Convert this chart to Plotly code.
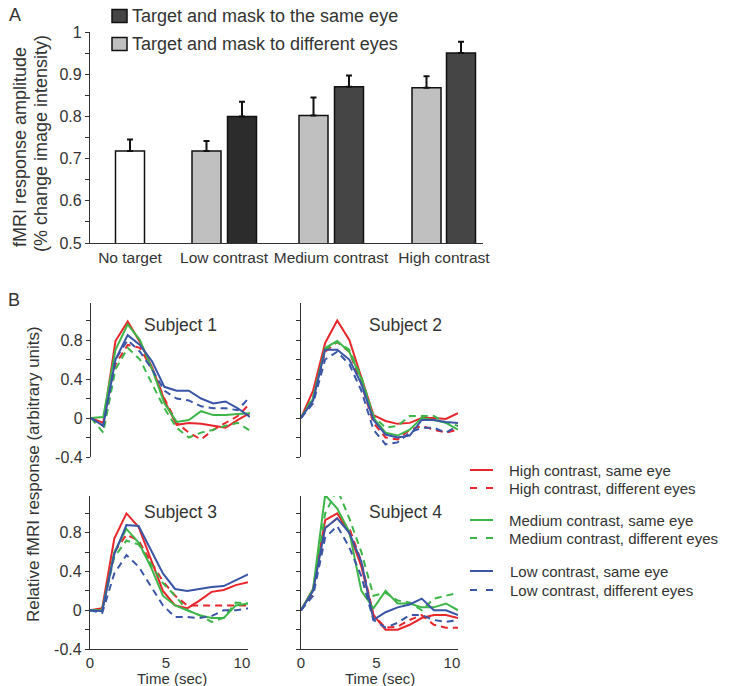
import plotly.graph_objects as go

W, H = 729, 686
def px(x): return x / W
def py(y): return 1 - y / H

FONT = "Liberation Sans, Arial, sans-serif"
TXT = "#333333"

# ---------------- Panel A data ----------------
a_categories = ["No target", "Low contrast", "Medium contrast", "High contrast"]
a_no_target = [0.718]
a_no_target_err = [0.027]
a_diff_eyes = [0.718, 0.802, 0.868]
a_diff_eyes_err = [0.024, 0.043, 0.027]
a_same_eye = [0.800, 0.870, 0.950]
a_same_eye_err = [0.035, 0.027, 0.027]
a_legend = ["Target and mask to the same eye", "Target and mask to different eyes"]

# ---------------- Panel B data ----------------
t = [0, 0.8, 1.6, 2.4, 3.2, 4.0, 4.8, 5.6, 6.4, 7.2, 8.0, 8.8, 9.6, 10.4]

s1_high_same = [0, -0.05, 0.79, 0.99, 0.78, 0.52, 0.18, -0.07, -0.05, -0.06, -0.08, -0.10, -0.02, 0.05]
s1_high_diff = [0, -0.08, 0.55, 0.75, 0.72, 0.50, 0.20, -0.05, -0.15, -0.22, -0.12, -0.05, 0.02, 0.15]
s1_med_same = [0, 0.01, 0.70, 0.96, 0.80, 0.50, 0.15, -0.04, -0.02, 0.07, 0.03, 0.03, 0.04, 0.05]
s1_med_diff = [0, -0.15, 0.50, 0.72, 0.60, 0.35, 0.10, -0.10, -0.20, -0.15, -0.12, -0.08, -0.05, -0.13]
s1_low_same = [0, -0.08, 0.60, 0.85, 0.75, 0.58, 0.32, 0.28, 0.28, 0.20, 0.15, 0.17, 0.10, 0.01]
s1_low_diff = [0, -0.08, 0.60, 0.80, 0.68, 0.50, 0.28, 0.20, 0.18, 0.12, 0.10, 0.10, 0.08, 0.22]

s2_high_same = [0, 0.28, 0.77, 1.00, 0.80, 0.42, 0.03, -0.03, -0.06, -0.05, 0.00, 0.00, -0.01, 0.05]
s2_high_diff = [0, 0.18, 0.68, 0.78, 0.68, 0.35, -0.05, -0.20, -0.22, -0.12, -0.08, -0.12, -0.15, -0.12]
s2_med_same = [0, 0.20, 0.72, 0.79, 0.68, 0.40, 0.00, -0.15, -0.18, -0.12, 0.00, -0.02, -0.05, -0.12]
s2_med_diff = [0, 0.22, 0.70, 0.78, 0.70, 0.42, 0.02, -0.10, -0.08, 0.02, 0.02, 0.02, -0.05, -0.08]
s2_low_same = [0, 0.18, 0.70, 0.70, 0.60, 0.35, -0.02, -0.17, -0.20, -0.18, -0.02, -0.02, -0.04, -0.05]
s2_low_diff = [0, 0.15, 0.60, 0.68, 0.55, 0.28, -0.12, -0.27, -0.25, -0.15, -0.10, -0.10, -0.15, -0.08]

s3_high_same = [0, 0.02, 0.74, 1.00, 0.86, 0.52, 0.20, 0.05, 0.02, 0.10, 0.19, 0.21, 0.26, 0.29]
s3_high_diff = [0, 0.00, 0.60, 0.78, 0.72, 0.50, 0.30, 0.15, 0.05, 0.05, 0.05, 0.05, 0.05, 0.05]
s3_med_same = [0, 0.00, 0.60, 0.84, 0.70, 0.45, 0.15, 0.05, 0.00, -0.05, -0.08, -0.08, 0.05, 0.07]
s3_med_diff = [0, 0.00, 0.55, 0.72, 0.68, 0.48, 0.28, 0.15, 0.00, -0.05, -0.12, -0.08, 0.08, 0.07]
s3_low_same = [0, -0.01, 0.58, 0.88, 0.87, 0.62, 0.38, 0.22, 0.20, 0.22, 0.24, 0.25, 0.31, 0.37]
s3_low_diff = [0, -0.03, 0.38, 0.57, 0.45, 0.25, 0.05, -0.07, -0.07, -0.08, -0.06, 0.00, 0.00, 0.02]

s4_high_same = [0, 0.22, 0.93, 1.00, 0.80, 0.45, -0.05, -0.20, -0.20, -0.15, -0.08, -0.05, -0.05, -0.08]
s4_high_diff = [0, 0.18, 0.85, 0.95, 0.85, 0.50, -0.05, -0.18, -0.17, -0.10, -0.05, -0.15, -0.18, -0.18]
s4_med_same = [0, 0.22, 1.19, 1.05, 0.81, 0.20, 0.02, 0.20, 0.07, 0.07, 0.03, 0.03, 0.07, 0.00]
s4_med_diff = [0, 0.20, 1.00, 1.25, 0.95, 0.60, 0.15, 0.18, 0.10, 0.08, 0.00, 0.12, 0.15, 0.18]
s4_low_same = [0, 0.20, 0.85, 0.95, 0.80, 0.50, -0.10, -0.02, 0.03, 0.06, 0.12, 0.00, 0.00, -0.05]
s4_low_diff = [0, 0.15, 0.75, 0.87, 0.65, 0.35, -0.10, -0.18, -0.13, -0.05, -0.05, -0.10, -0.12, -0.10]

subject_titles = ["Subject 1", "Subject 2", "Subject 3", "Subject 4"]
subject_series = [
    [s1_high_same, s1_high_diff, s1_med_same, s1_med_diff, s1_low_same, s1_low_diff],
    [s2_high_same, s2_high_diff, s2_med_same, s2_med_diff, s2_low_same, s2_low_diff],
    [s3_high_same, s3_high_diff, s3_med_same, s3_med_diff, s3_low_same, s3_low_diff],
    [s4_high_same, s4_high_diff, s4_med_same, s4_med_diff, s4_low_same, s4_low_diff],
]
series_names = ["High contrast, same eye", "High contrast, different eyes",
                "Medium contrast, same eye", "Medium contrast, different eyes",
                "Low contrast, same eye", "Low contrast, different eyes"]

RED, GREEN, BLUE = "#e8262b", "#3db549", "#3a55a6"
series_colors = [RED, RED, GREEN, GREEN, BLUE, BLUE]
series_dash = ["solid", "7px,5px"] * 3

fig = go.Figure()

# ---------------- Panel A ----------------
x_no = [130]
x_diff = [206.5, 313.5, 426.5]
x_same = [242, 349, 461]
BW = 29
DARK, GRAY = "#454545", "#c0c0c0"
err_style = dict(type="data", symmetric=False, color="#111", thickness=2, width=3)

fig.add_trace(go.Bar(x=x_same, y=a_same_eye, width=BW, name=a_legend[0],
                     marker=dict(color=["#2c2c2c", DARK, DARK], line=dict(color="#111", width=1.5)),
                     error_y=dict(array=a_same_eye_err, arrayminus=[0]*3, **err_style),
                     xaxis="x", yaxis="y", showlegend=False))
fig.add_trace(go.Bar(x=x_diff, y=a_diff_eyes, width=BW, name=a_legend[1],
                     marker=dict(color=GRAY, line=dict(color="#111", width=1.5)),
                     error_y=dict(array=a_diff_eyes_err, arrayminus=[0]*3, **err_style),
                     xaxis="x", yaxis="y", showlegend=False))
fig.add_trace(go.Bar(x=x_no, y=a_no_target, width=BW, name="No target",
                     marker=dict(color="#ffffff", line=dict(color="#111", width=1.5)),
                     error_y=dict(array=a_no_target_err, arrayminus=[0], **err_style),
                     xaxis="x", yaxis="y", showlegend=False))

# ---------------- Panel B ----------------
for si, series in enumerate(subject_series):
    ax = si + 2
    for k, ys in enumerate(series):
        fig.add_trace(go.Scatter(
            x=t, y=ys, mode="lines", name=series_names[k],
            line=dict(color=series_colors[k], width=2, dash=series_dash[k]),
            xaxis=f"x{ax}", yaxis=f"y{ax}", showlegend=False))

base_axis = dict(showgrid=False, zeroline=False, linecolor="#333", linewidth=1.3,
                 automargin=False, tickcolor="#333",
                 tickfont=dict(size=16, color=TXT, family=FONT))

layout = dict(
    template="none",
    width=W, height=H, margin=dict(l=0, r=0, t=0, b=0, pad=0, autoexpand=False),
    paper_bgcolor="white", plot_bgcolor="rgba(0,0,0,0)",
    font=dict(family=FONT, color=TXT),
    barmode="overlay", showlegend=False,
    xaxis=dict(base_axis, domain=[px(90), px(483)], range=[90, 483], anchor="y",
               showline=True, ticks="", tickvals=[130, 224, 331, 444], ticktext=a_categories,
               tickfont=dict(size=15.5, color=TXT, family=FONT)),
    yaxis=dict(base_axis, domain=[py(243), py(32)], range=[0.5, 1.0], anchor="x",
               showline=True, ticks="outside", ticklen=4,
               tickvals=[0.5, 0.55, 0.6, 0.65, 0.7, 0.75, 0.8, 0.85, 0.9, 0.95, 1.0],
               ticktext=["0.5", "", "0.6", "", "0.7", "", "0.8", "", "0.9", "", "1"]),
)

xdom = {2: (91, 250), 3: (301, 458), 4: (90, 248), 5: (301, 458)}
ydom = {2: (303, 457), 3: (303, 457), 4: (496, 649), 5: (496, 649)}
ytv = [-0.4, -0.2, 0, 0.2, 0.4, 0.6, 0.8, 1.0]
ytt_left = ["-0.4", "", "0", "", "0.4", "", "0.8", ""]
for ax in range(2, 6):
    bottom = ax in (4, 5)
    left = ax in (2, 4)
    layout[f"xaxis{ax}"] = dict(base_axis, domain=[px(xdom[ax][0]), px(xdom[ax][1])],
                                range=[0, 10.4], anchor=f"y{ax}",
                                showline=bottom, showticklabels=bottom,
                                ticks="", tickvals=[0, 5, 10],
                                tickfont=dict(size=15, color=TXT, family=FONT))
    layout[f"yaxis{ax}"] = dict(base_axis, domain=[py(ydom[ax][1]), py(ydom[ax][0])],
                                range=[-0.4, 1.18], anchor=f"x{ax}", showline=True,
                                ticks="outside", ticklen=4, tickvals=ytv,
                                ticktext=ytt_left if left else [""] * len(ytv))

fig.update_layout(**layout)

ann = []
shapes = []
def add_text(text, x, y, size, angle=0, anchor="center"):
    ann.append(dict(text=text, x=px(x), y=py(y), xref="paper", yref="paper",
                    showarrow=False, xanchor=anchor, yanchor="middle", textangle=angle,
                    font=dict(size=size, color=TXT, family=FONT)))

add_text("A", 15, 15, 18)
add_text("B", 14, 300, 18)
add_text("fMRI response amplitude", 20, 147, 18, -90)
add_text("(% change image intensity)", 41, 144, 18, -90)
add_text("Relative fMRI response (arbitrary units)", 33, 474, 17, -90)
subject_pos = [(180, 325), (405, 325), (180, 512), (405, 512)]
for title, (x, y) in zip(subject_titles, subject_pos):
    add_text(title, x, y, 17.5)
add_text("Time (sec)", 172, 678, 15)
add_text("Time (sec)", 380, 678, 15)

# Legend for panel A
for i, (label, col) in enumerate(zip(a_legend, [DARK, GRAY])):
    yc = 16 + 28 * i
    shapes.append(dict(type="rect", xref="paper", yref="paper",
                       x0=px(112), x1=px(127), y0=py(yc - 6.5), y1=py(yc + 6.5),
                       fillcolor=col, line=dict(color="#111", width=1.5)))
    add_text(label, 130, yc, 18, anchor="left")

# Legend for panel B
leg_rows = [470, 488, 520, 538, 571, 590]
for k, yc in enumerate(leg_rows):
    if series_dash[k] == "solid":
        shapes.append(dict(type="line", xref="paper", yref="paper",
                           x0=px(470), x1=px(493), y0=py(yc), y1=py(yc),
                           line=dict(color=series_colors[k], width=2)))
    else:
        for a, b in [(470, 477), (486, 493)]:
            shapes.append(dict(type="line", xref="paper", yref="paper",
                               x0=px(a), x1=px(b), y0=py(yc), y1=py(yc),
                               line=dict(color=series_colors[k], width=2)))
    add_text(series_names[k], 507 if k < 4 else 508, yc, 15, anchor="left")

fig.update_layout(annotations=ann, shapes=shapes)

fig.write_html("out.html", config={"displayModeBar": False},
               post_script="document.body.style.margin='0px';document.body.style.overflow='hidden';")
